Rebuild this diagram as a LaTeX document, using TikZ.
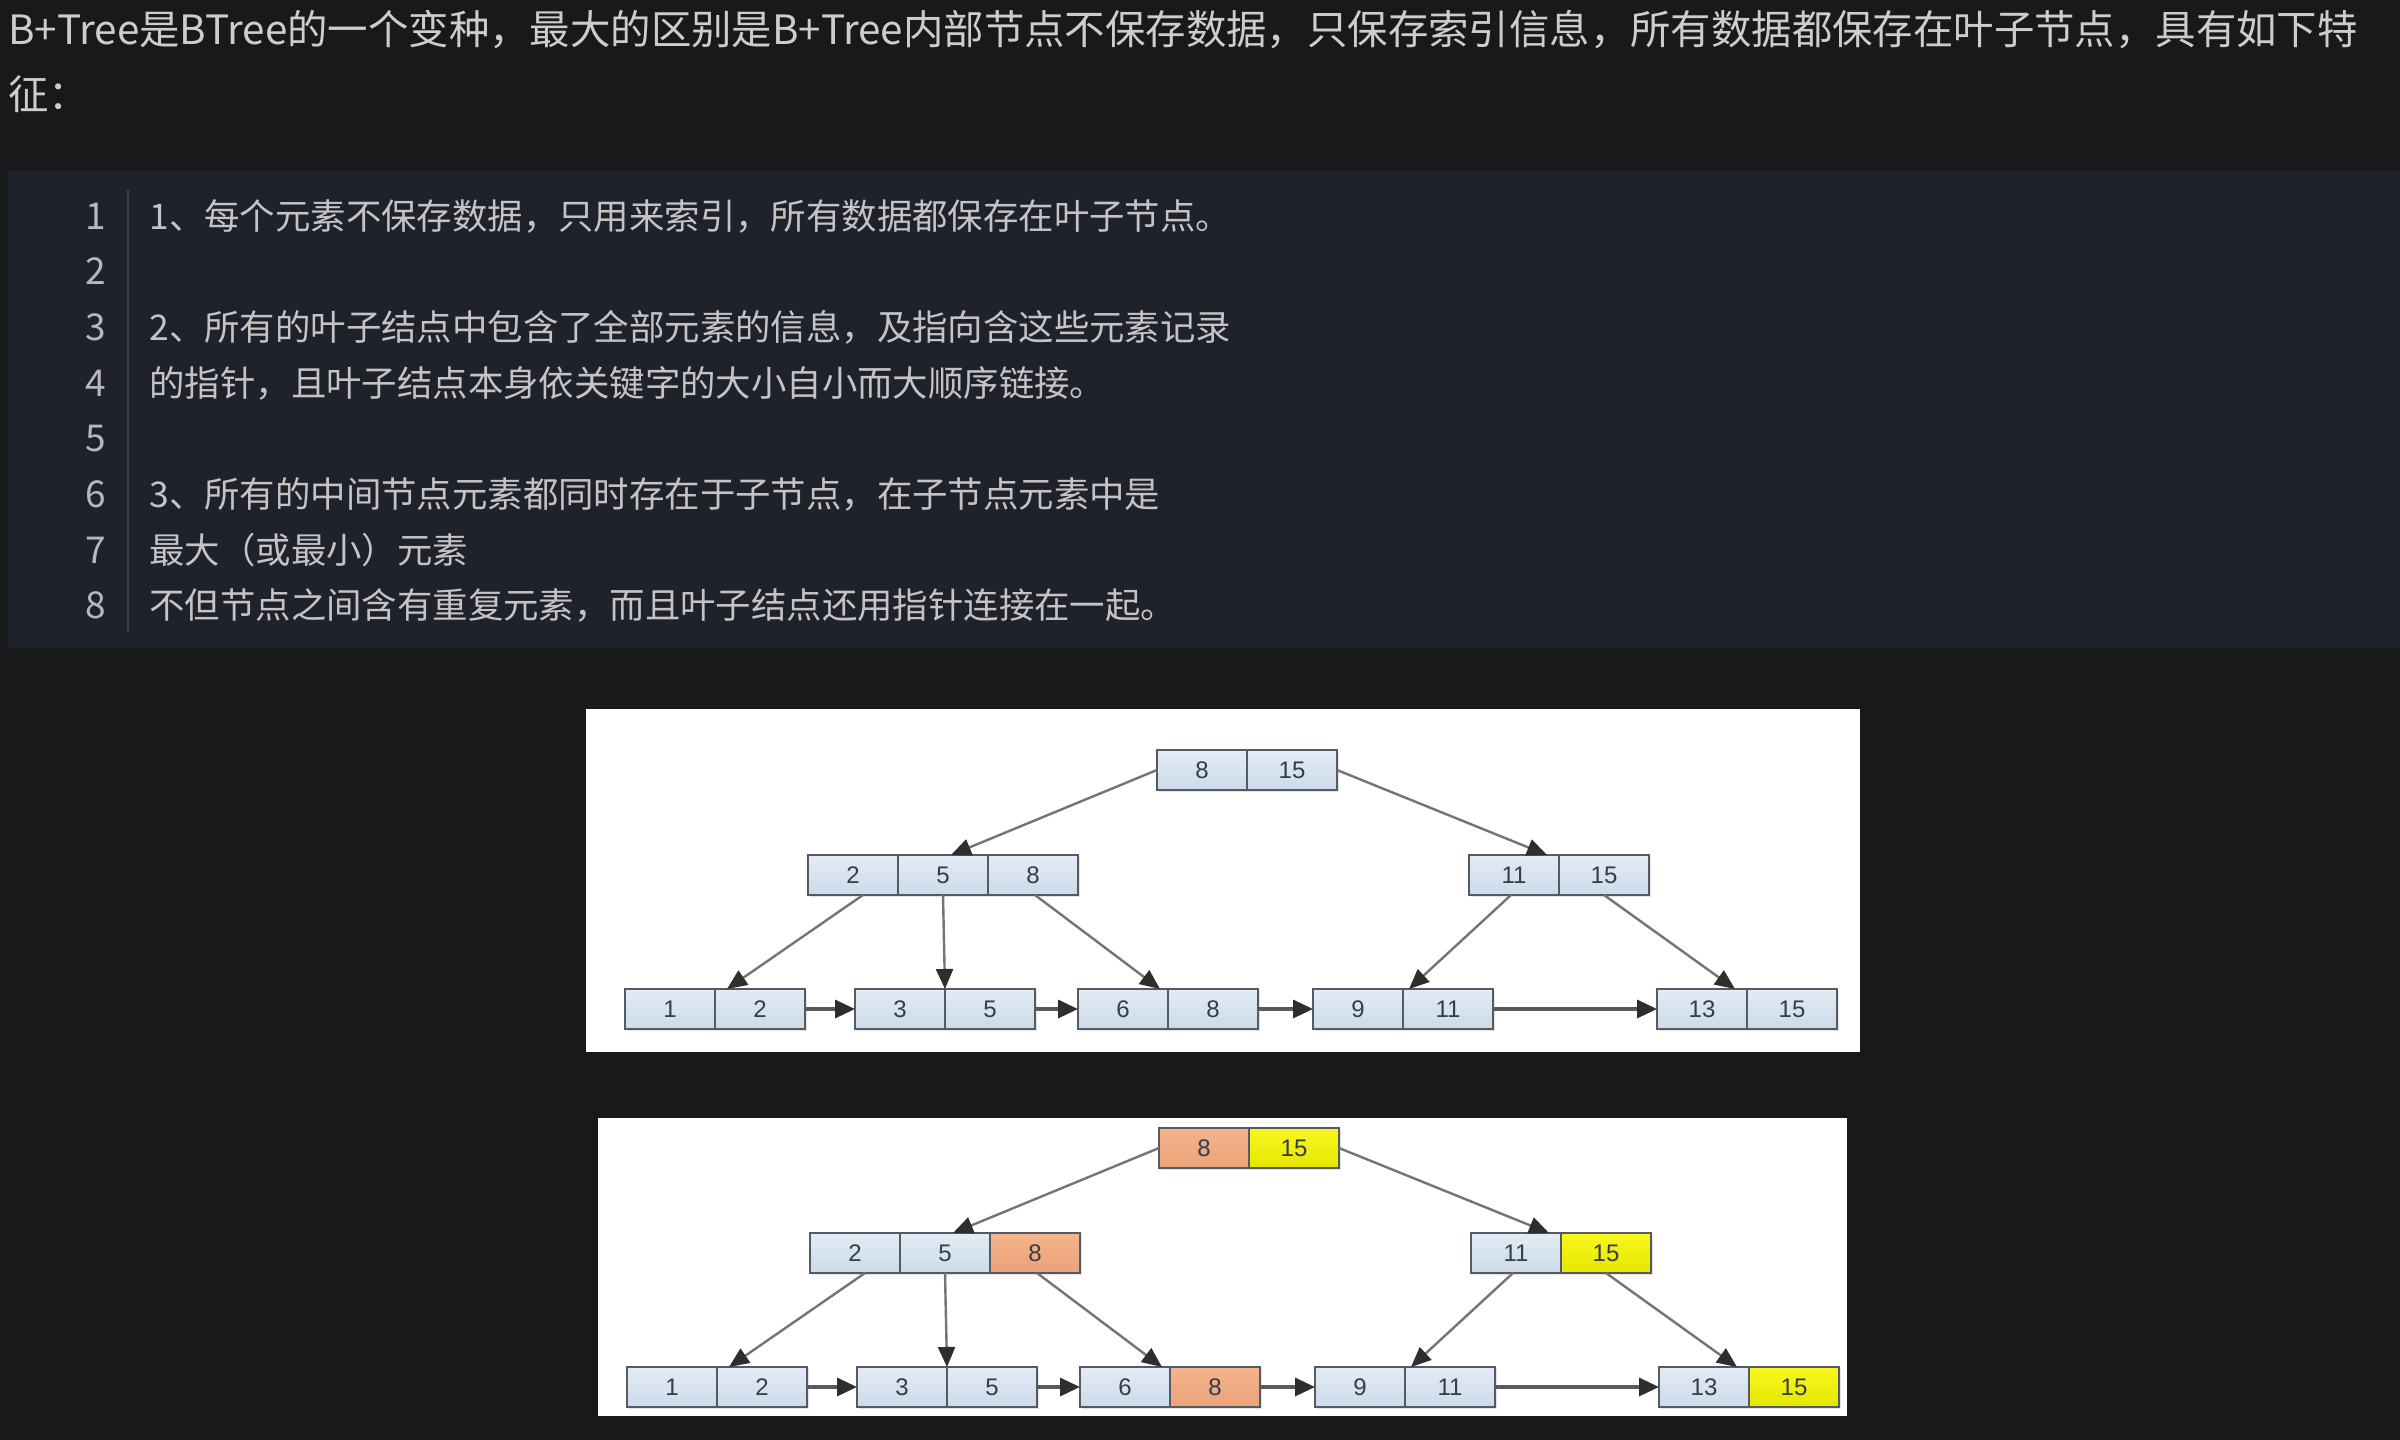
\documentclass[tikz,border=0pt]{standalone}
\usepackage{fontspec}
\setmainfont{Liberation Sans}
\newfontfamily\cjk{Noto Sans CJK SC}
\newfontfamily\numfont{Liberation Sans}
\usetikzlibrary{arrows.meta,shadows}

\definecolor{bgout}{HTML}{18191B}
\definecolor{codebg}{HTML}{1F222A}
\definecolor{headtext}{HTML}{CDCDCD}
\definecolor{codetext}{HTML}{C4C4C4}
\definecolor{numtext}{HTML}{B8B8B8}
\definecolor{divider}{HTML}{3B3F48}
\definecolor{celltop}{HTML}{E4ECF5}
\definecolor{cellbot}{HTML}{CBDAEA}
\definecolor{cellborder}{HTML}{555B63}
\definecolor{celltext}{HTML}{353D47}
\definecolor{orangetop}{HTML}{F4B48C}
\definecolor{orangebot}{HTML}{EBA278}
\definecolor{yellowtop}{HTML}{F8F820}
\definecolor{yellowbot}{HTML}{E6E600}
\definecolor{linkgray}{HTML}{747474}
\definecolor{chaingray}{HTML}{5A5A5A}
\definecolor{tipgray}{HTML}{2E2E2E}

\begin{document}
\begin{tikzpicture}[x=0.5pt,y=-0.5pt,
  cell/.style={draw=cellborder, line width=1.2pt, top color=celltop, bottom color=cellbot,
    minimum width=45pt, minimum height=20pt, inner sep=0pt, outer sep=0pt,
    font=\numfont\fontsize{12pt}{12pt}\selectfont, text=celltext,
    drop shadow={shadow xshift=0.8pt, shadow yshift=-1.2pt, opacity=0.22}},
  hlo/.style={top color=orangetop, bottom color=orangebot},
  hly/.style={top color=yellowtop, bottom color=yellowbot},
  link/.style={draw=linkgray, line width=1.2pt, -{Triangle[length=10pt,width=8.5pt,color=tipgray]}},
  chain/.style={draw=chaingray, line width=1.7pt, -{Triangle[length=10pt,width=9pt,color=tipgray]}},
  heading/.style={anchor=base west, inner sep=0pt, text=headtext, font=\cjk\fontsize{20.2pt}{20.2pt}\selectfont},
  codeline/.style={anchor=base west, inner sep=0pt, text=codetext, font=\cjk\fontsize{17.7pt}{17.7pt}\selectfont},
  lineno/.style={anchor=base, inner sep=0pt, text=numtext, font=\cjk\fontsize{18.5pt}{18.5pt}\selectfont},
  panel/.style={fill=white, draw=none}
]
\useasboundingbox (0,0) rectangle (2400,1440);
\fill[bgout] (0,0) rectangle (2400,1440);

% heading
\node[heading] (h1) at (8,44) {B+Tree是BTree的一个变种，最大的区别是B+Tree内部节点不保存数据，只保存索引信息，所有数据都保存在叶子节点，具有如下特};
\node[heading] (h2) at (8,109) {征：};

% code block
\fill[codebg] (8,170) rectangle (2400,648);
\draw[divider, line width=1pt] (128,190) -- (128,633);
\foreach \k in {1,...,8}{
  \node[lineno] (n\k) at (96,{229+(\k-1)*55.7}) {\k};
}
\node[codeline] (c1) at (149,229) {1、每个元素不保存数据，只用来索引，所有数据都保存在叶子节点。};
\node[codeline] (c3) at (149,340.4) {2、所有的叶子结点中包含了全部元素的信息，及指向含这些元素记录};
\node[codeline] (c4) at (149,396.1) {的指针，且叶子结点本身依关键字的大小自小而大顺序链接。};
\node[codeline] (c6) at (149,507.5) {3、所有的中间节点元素都同时存在于子节点，在子节点元素中是};
\node[codeline] (c7) at (149,563.2) {最大（或最小）元素};
\node[codeline] (c8) at (149,618.9) {不但节点之间含有重复元素，而且叶子结点还用指针连接在一起。};

% ---------- tree 1 ----------
\fill[panel] (586,709) rectangle (1860,1052);
\node[cell] (ar1) at (1202,770) {8};
\node[cell] (ar2) at (1292,770) {15};
\node[cell] (am1) at (853,875) {2};
\node[cell] (am2) at (943,875) {5};
\node[cell] (am3) at (1033,875) {8};
\node[cell] (an1) at (1514,875) {11};
\node[cell] (an2) at (1604,875) {15};
\node[cell] (al1) at (670,1009) {1};
\node[cell] (al2) at (760,1009) {2};
\node[cell] (al3) at (900,1009) {3};
\node[cell] (al4) at (990,1009) {5};
\node[cell] (al5) at (1123,1009) {6};
\node[cell] (al6) at (1213,1009) {8};
\node[cell] (al7) at (1358,1009) {9};
\node[cell] (al8) at (1448,1009) {11};
\node[cell] (al9) at (1702,1009) {13};
\node[cell] (al10) at (1792,1009) {15};
\draw[link] (ar1.west) -- ([xshift=4pt]am2.north);
\draw[link] (ar2.east) -- ([xshift=-6pt]an1.north east);
\draw[link] ([xshift=5pt]am1.south) -- ([xshift=6pt]al2.north west);
\draw[link] (am2.south) -- (al3.north east);
\draw[link] ([xshift=1pt]am3.south) -- ([xshift=-4pt]al5.north east);
\draw[link] ([xshift=-1.5pt]an1.south) -- ([xshift=3pt]al8.north west);
\draw[link] (an2.south) -- ([xshift=-6pt]al9.north east);
\draw[chain] (al2.east) -- (al3.west);
\draw[chain] (al4.east) -- (al5.west);
\draw[chain] (al6.east) -- (al7.west);
\draw[chain] (al8.east) -- (al9.west);

% ---------- tree 2 ----------
\fill[panel] (598,1118) rectangle (1847,1416);
\node[cell,hlo] (br1) at (1204,1148) {8};
\node[cell,hly] (br2) at (1294,1148) {15};
\node[cell] (bm1) at (855,1253) {2};
\node[cell] (bm2) at (945,1253) {5};
\node[cell,hlo] (bm3) at (1035,1253) {8};
\node[cell] (bn1) at (1516,1253) {11};
\node[cell,hly] (bn2) at (1606,1253) {15};
\node[cell] (bl1) at (672,1387) {1};
\node[cell] (bl2) at (762,1387) {2};
\node[cell] (bl3) at (902,1387) {3};
\node[cell] (bl4) at (992,1387) {5};
\node[cell] (bl5) at (1125,1387) {6};
\node[cell,hlo] (bl6) at (1215,1387) {8};
\node[cell] (bl7) at (1360,1387) {9};
\node[cell] (bl8) at (1450,1387) {11};
\node[cell] (bl9) at (1704,1387) {13};
\node[cell,hly] (bl10) at (1794,1387) {15};
\draw[link] (br1.west) -- ([xshift=4pt]bm2.north);
\draw[link] (br2.east) -- ([xshift=-6pt]bn1.north east);
\draw[link] ([xshift=5pt]bm1.south) -- ([xshift=6pt]bl2.north west);
\draw[link] (bm2.south) -- (bl3.north east);
\draw[link] ([xshift=1pt]bm3.south) -- ([xshift=-4pt]bl5.north east);
\draw[link] ([xshift=-1.5pt]bn1.south) -- ([xshift=3pt]bl8.north west);
\draw[link] (bn2.south) -- ([xshift=-6pt]bl9.north east);
\draw[chain] (bl2.east) -- (bl3.west);
\draw[chain] (bl4.east) -- (bl5.west);
\draw[chain] (bl6.east) -- (bl7.west);
\draw[chain] (bl8.east) -- (bl9.west);
\end{tikzpicture}
\end{document}
